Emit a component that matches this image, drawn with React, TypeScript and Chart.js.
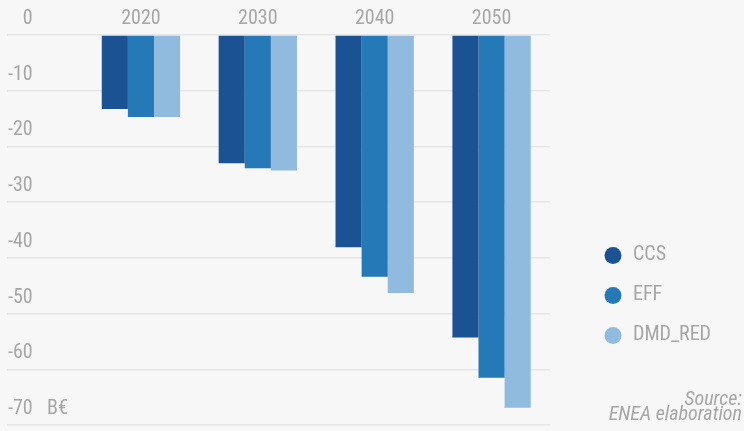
import React, { useEffect, useRef } from "react";
import { Chart, registerables } from "chart.js";

Chart.register(...registerables);

const categories = ["2020", "2030", "2040", "2050"];
const seriesNames = ["CCS", "EFF", "DMD_RED"];
const ccsValues = [-13.3, -23.0, -38.1, -54.3];
const effValues = [-14.7, -23.9, -43.4, -61.5];
const dmdRedValues = [-14.7, -24.3, -46.3, -66.9];
const seriesColors = ["#1a5293", "#2679b7", "#91badf"];
const yMin = -70;
const yMax = 0;
const yStep = 10;
const unitLabel = "B€";
const sourceLines = ["Source:", "ENEA elaboration"];

const FONT = "'Liberation Sans Narrow', 'Roboto Condensed', 'DejaVu Sans Condensed', sans-serif";
const TEXT_COLOR = "#a6a6a6";

export default function App() {
  const canvasRef = useRef<HTMLCanvasElement | null>(null);

  useEffect(() => {
    if (!canvasRef.current) return;
    const values = [ccsValues, effValues, dmdRedValues];
    const chart = new Chart(canvasRef.current, {
      type: "bar",
      data: {
        labels: categories,
        datasets: seriesNames.map((name, i) => ({
          label: name,
          data: values[i],
          backgroundColor: seriesColors[i],
          borderWidth: 0,
          categoryPercentage: 0.67,
          barPercentage: 1,
        })),
      },
      options: {
        animation: false,
        responsive: true,
        maintainAspectRatio: false,
        layout: { padding: { left: 0, top: 0, right: 23, bottom: 6 } },
        plugins: {
          tooltip: { enabled: false },
          legend: {
            position: "right",
            align: "start",
            maxWidth: 300,
            title: { display: true, text: "", padding: { top: 211, bottom: 0 }, font: { size: 12 } },
            labels: {
              usePointStyle: true,
              pointStyle: "circle",
              boxWidth: 20,
              boxHeight: 12,
              padding: 20,
              color: TEXT_COLOR,
              font: { family: FONT, size: 20 },
            },
          },
        },
        scales: {
          x: {
            position: "top",
            grid: { display: false, drawTicks: false },
            border: { display: false },
            ticks: { color: TEXT_COLOR, font: { family: FONT, size: 20 }, padding: 4, maxRotation: 0 },
            afterFit: (s: any) => { s.height = 35; },
          },
          y: {
            position: "left",
            min: yMin,
            max: yMax,
            weight: 10,
            grid: { color: "#e6e6e6", lineWidth: 1.5, tickLength: 75.5, drawTicks: true },
            border: { display: false },
            ticks: {
              stepSize: yStep,
              mirror: true,
              crossAlign: "far",
              padding: -74.5,
              labelOffset: -16,
              color: TEXT_COLOR,
              font: { family: FONT, size: 20 },
              callback: (v: any) => `${v}`,
            },
            afterFit: (s: any) => { s.width = 82.5; },
          },
          yUnit: {
            axis: "y",
            position: "left",
            weight: 0,
            min: yMin,
            max: yMax,
            display: true,
            grid: { display: false, drawTicks: false },
            border: { display: false },
            afterBuildTicks: (s: any) => { s.ticks = [{ value: yMin }]; },
            ticks: {
              mirror: true,
              padding: -35.5,
              labelOffset: -16,
              color: TEXT_COLOR,
              font: { family: FONT, size: 20 },
              callback: () => unitLabel,
            },
            afterFit: (s: any) => { s.width = 0; },
          },
          yRight: {
            axis: "y",
            position: "right",
            display: true,
            grid: { display: false, drawTicks: false },
            border: { display: false },
            ticks: { display: false },
            afterFit: (s: any) => { s.width = 33; },
          },
        },
      },
    } as any);
    return () => chart.destroy();
  }, []);

  return (
    <div style={{ position: "fixed", left: 0, top: 0, width: 744, height: 431, background: "#f7f7f7" }}>
      <canvas ref={canvasRef} />
      <div
        style={{
          position: "absolute",
          right: 2,
          top: 391,
          textAlign: "right",
          fontFamily: FONT,
          fontStyle: "italic",
          fontSize: 20,
          lineHeight: "15px",
          color: TEXT_COLOR,
        }}
      >
        {sourceLines.map((l) => (
          <div key={l}>{l}</div>
        ))}
      </div>
    </div>
  );
}
